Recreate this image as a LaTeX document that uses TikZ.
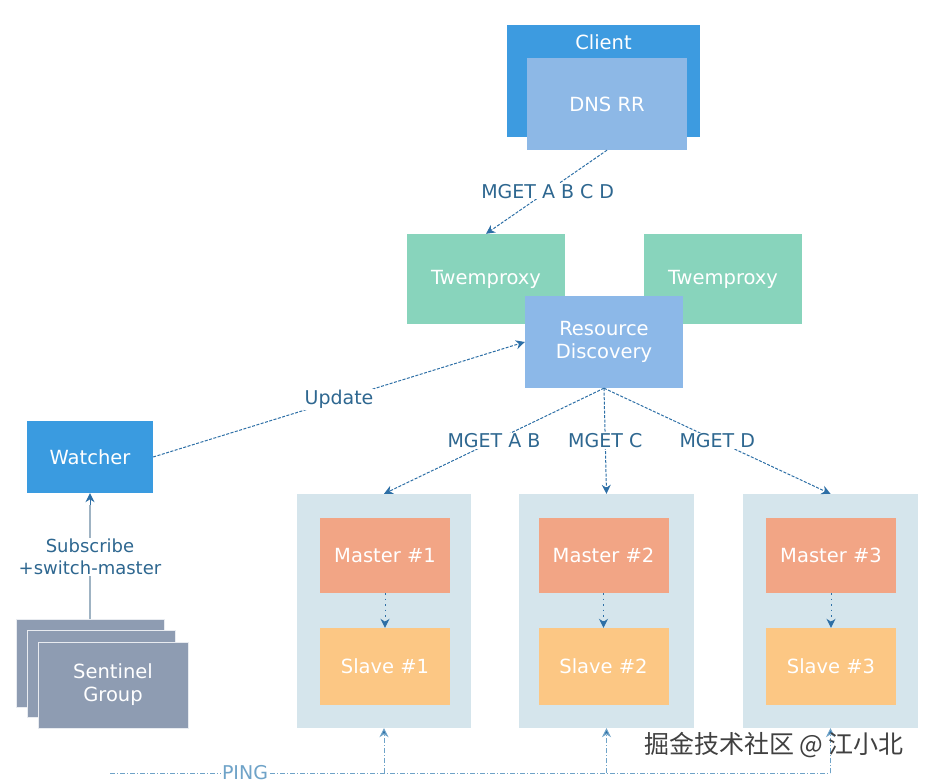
\documentclass[tikz,border=0pt]{standalone}
\usepackage{fontspec}
\setmainfont{DejaVu Sans}
\newfontfamily\cjkfont{Noto Sans CJK SC}
\usetikzlibrary{arrows.meta,calc}
\definecolor{clientc}{HTML}{3D9BE0}
\definecolor{dnsc}{HTML}{8DB8E6}
\definecolor{twc}{HTML}{88D4BC}
\definecolor{rdc}{HTML}{8CB8E8}
\definecolor{watchc}{HTML}{3A9BE0}
\definecolor{sentc}{HTML}{8E9CB2}
\definecolor{groupc}{HTML}{D5E5EC}
\definecolor{masterc}{HTML}{F2A585}
\definecolor{slavec}{HTML}{FCC784}
\definecolor{arrc}{HTML}{2D6FA6}
\definecolor{labc}{HTML}{2E6790}
\definecolor{subc}{HTML}{9FB3C3}
\definecolor{pingc}{HTML}{6FA3C8}
\tikzset{
  box/.style={inner sep=0pt, text=white, align=center, font=\fontsize{19.5}{23}\selectfont},
  grp/.style={fill=groupc, inner sep=0pt, minimum width=175pt, minimum height=234pt},
  mbox/.style={box, fill=masterc, minimum width=130pt, minimum height=75pt},
  sbox/.style={box, fill=slavec, minimum width=130pt, minimum height=77pt},
  sent/.style={box, fill=sentc, draw=white!80!sentc, line width=0.6pt},
  conn/.style={draw=arrc, line width=1pt, dash pattern=on 3pt off 1.5pt, -{Stealth[length=9pt,width=9pt]}},
  dotconn/.style={draw=arrc, line width=1pt, dash pattern=on 1.5pt off 4pt, -{Stealth[length=9pt,width=9pt]}},
  lab/.style={text=labc, fill=white, inner sep=1pt, font=\fontsize{19}{22}\selectfont},
}
\begin{document}
\begin{tikzpicture}[x=1pt,y=-1pt]
\useasboundingbox (0,0) rectangle (927,783);
% Client
\node[box, fill=clientc, minimum width=193pt, minimum height=112pt] (client) at (603.5,81) {};
\node[box] (clientlab) at (603.5,42) {Client};
\node[box, fill=dnsc, minimum width=160pt, minimum height=92pt] (dns) at (607,104) {DNS RR};
% Twemproxies
\node[box, fill=twc, minimum width=158pt, minimum height=90pt] (tw1) at (486,279) {Twemproxy};
\node[box, fill=twc, minimum width=158pt, minimum height=90pt] (tw2) at (723,279) {Twemproxy};
\node[box, fill=rdc, minimum width=158pt, minimum height=92pt] (rd) at (604,342) {Resource\\Discovery};
% Watcher & Sentinel
\node[box, fill=watchc, minimum width=126pt, minimum height=72pt] (watcher) at (90,457) {Watcher};
\node[sent, minimum width=148pt, minimum height=88pt] (sent1) at (90,663) {};
\node[sent, minimum width=148pt, minimum height=87pt] (sent2) at (101,673.5) {};
\node[sent, minimum width=150pt, minimum height=86pt] (sent3) at (113,685) {Sentinel\\Group};
% Groups
\node[grp, minimum width=174pt] (g1) at (384,611) {};
\node[grp] (g2) at (606.5,611) {};
\node[grp] (g3) at (830.5,611) {};
\node[mbox] (m1) at (385,555.5) {Master \#1};
\node[mbox] (m2) at (603.5,555.5) {Master \#2};
\node[mbox] (m3) at (831,555.5) {Master \#3};
\node[sbox] (s1) at (385,666.5) {Slave \#1};
\node[sbox] (s2) at (603.5,666.5) {Slave \#2};
\node[sbox] (s3) at (831,666.5) {Slave \#3};
% Connectors
\draw[conn] (dns.south) -- (tw1.north) node[lab, pos=0.49] {MGET A B C D};
\draw[conn] (watcher.east) -- (rd.west) node[lab, pos=0.5] {Update};
\draw[draw=subc, line width=2.5pt] (sent1.north) -- ($(watcher.south)+(0,12)$) coordinate (wtip);
\draw[draw=arrc, -{Stealth[length=9pt,width=9pt]}, line width=1pt] (wtip) -- (watcher.south);
\node[lab, text=labc, align=center, font=\fontsize{18}{22}\selectfont] (sublab) at (90,557) {Subscribe\\+switch-master};
\draw[conn] (rd.south) -- (g1.north) node[lab, pos=0.5] {MGET A B};
\draw[conn] (rd.south) -- (g2.north) node[lab, pos=0.5] {MGET C};
\draw[conn] (rd.south) -- (g3.north) node[lab, pos=0.5] {MGET D};
\draw[dotconn] (m1) -- (s1);
\draw[dotconn] (m2) -- (s2);
\draw[dotconn] (m3) -- (s3);
% PING
\coordinate (pingL) at (110,773);
\coordinate (pingR) at (830,773);
\draw[draw=pingc, line width=1pt, dash pattern=on 5pt off 2pt on 1pt off 2pt] (pingL) -- (pingR);
\node[text=pingc, fill=white, inner sep=1pt, font=\fontsize{19}{22}\selectfont] (ping) at (245,773) {PING};
\foreach \g in {g1,g2,g3} {
  \draw[draw=pingc, line width=1pt, dash pattern=on 5pt off 2pt on 1pt off 2pt, -{Stealth[length=9pt,width=9pt,fill=arrc]}] (\g.south |- pingL) -- (\g.south);
}
% watermark
\node[text=black!75, font=\cjkfont\fontsize{25}{28}\selectfont, inner sep=1pt] (wm) at (774,745) {掘金技术社区 @ 江小北};
\end{tikzpicture}
\end{document}
